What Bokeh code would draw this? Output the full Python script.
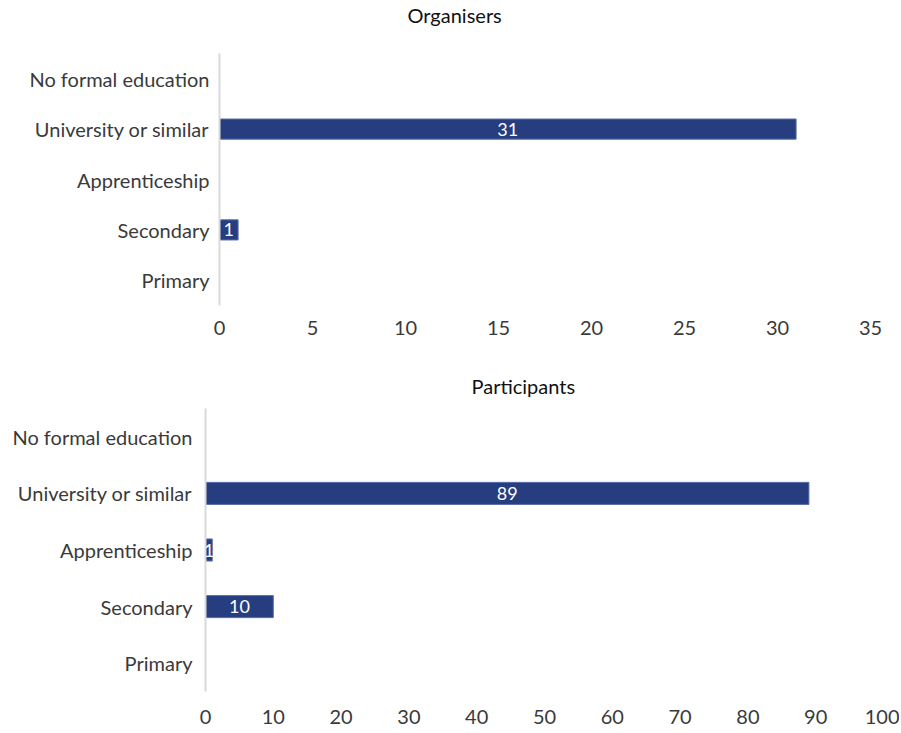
from bokeh.plotting import figure
from bokeh.layouts import column, row
from bokeh.models import FactorRange, Range1d, SingleIntervalTicker, ColumnDataSource, Title, Spacer
from bokeh.core.properties import value
from bokeh.embed import file_html
from bokeh.resources import INLINE

categories = ["Primary", "Secondary", "Apprenticeship", "University or similar", "No formal education"]
organisers = [0, 1, 0, 31, 0]
participants = [0, 10, 1, 89, 0]

FONT = "Lato"
BAR = "#263D80"
TXT = "#3a3a3a"


def make(title, values, xmax, interval, w, h, btop, bbot, bleft, bright, toff, gap, bar_h, label_standoff_y, label_standoff_x):
    p = figure(width=w, height=h, y_range=FactorRange(*categories), x_range=Range1d(0, xmax),
               output_backend="svg", toolbar_location=None, min_border_top=btop,
               min_border_bottom=bbot, min_border_left=bleft, min_border_right=bright)
    cats = [c for c, v in zip(categories, values) if v > 0]
    vals = [v for v in values if v > 0]
    src = ColumnDataSource(dict(y=cats, right=vals, mid=[v / 2 for v in vals], lab=[str(v) for v in vals]))
    p.hbar(y="y", left=0, right="right", height=bar_h, source=src, fill_color=BAR, line_color="#5a6fa8", line_width=1)
    p.text(x="mid", y="y", text="lab", source=src, text_color="white", text_align="center",
           text_baseline="middle", text_font=value(FONT), text_font_size="18px")
    # spacer panel between title and frame, then the title itself
    p.add_layout(Title(text=" ", text_font_size="1px", standoff=gap), "above")
    p.add_layout(Title(text=title, align="left", offset=toff, standoff=0, text_font=FONT,
                       text_font_size="20px", text_font_style="normal", text_color="#111111"), "above")
    p.xgrid.visible = False
    p.ygrid.visible = False
    p.outline_line_color = None
    p.xaxis.ticker = SingleIntervalTicker(interval=interval)
    p.xaxis.axis_line_color = None
    p.xaxis.major_tick_line_color = None
    p.xaxis.minor_tick_line_color = None
    p.xaxis.major_tick_out = 0
    p.xaxis.major_tick_in = 0
    p.xaxis.major_label_standoff = label_standoff_x
    p.yaxis.axis_line_color = "#D9D9D9"
    p.yaxis.axis_line_width = 2
    p.yaxis.major_tick_line_color = None
    p.yaxis.minor_tick_line_color = None
    p.yaxis.major_tick_out = 0
    p.yaxis.major_tick_in = 0
    p.yaxis.major_label_standoff = label_standoff_y
    for ax in (p.xaxis, p.yaxis):
        ax.major_label_text_font = FONT
        ax.major_label_text_font_size = "20px"
        ax.major_label_text_color = TXT
    return p


# frame 1: x 219..870, y 55..305 ; frame 2: x 205..883, y 410..691
p1 = make("Organisers", organisers, 35, 5, 885, 368, 53, 63, 205, 29, 188, 24, 0.4, 10, 11)
p2 = make("Participants", participants, 100, 10, 899, 365, 40, 42, 205, 16, 266, 8, 0.39, 13, 14)

layout = column(row(Spacer(width=14, height=368), p1), p2, spacing=0)
open("out.html", "w").write(file_html(layout, INLINE))
